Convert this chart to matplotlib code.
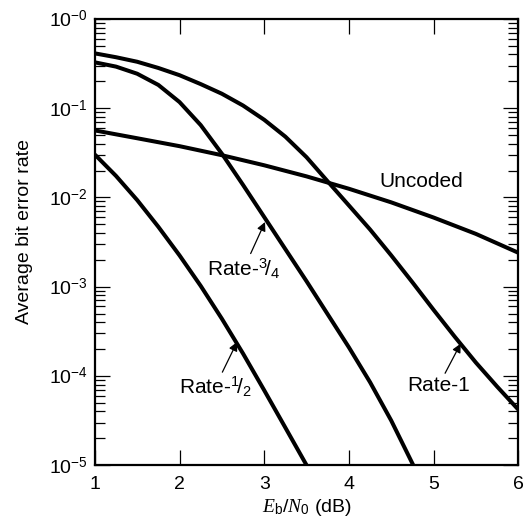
import numpy as np
import matplotlib
matplotlib.use('Agg')
import matplotlib.pyplot as plt
from matplotlib.ticker import FixedLocator, FixedFormatter, LogLocator, NullFormatter

plt.rcParams['font.family'] = ['Liberation Sans', 'DejaVu Sans']
plt.rcParams['mathtext.fontset'] = 'custom'
plt.rcParams['mathtext.rm'] = 'Liberation Sans'
plt.rcParams['mathtext.it'] = 'Liberation Serif:italic'
plt.rcParams['mathtext.bf'] = 'Liberation Sans:bold'

# Eb/N0 (dB) 와 BER 값
uncoded_x = [1.0, 1.5, 2.0, 2.5, 3.0, 3.5, 4.0, 4.5, 5.0, 5.5, 6.0]
uncoded_y = [0.0563, 0.046, 0.0375, 0.0297, 0.0229, 0.0172, 0.0125, 0.0088, 0.00595, 0.0039, 0.0024]

rate1_x = [1.0, 1.25, 1.5, 1.75, 2.0, 2.25, 2.5, 2.75, 3.0, 3.25, 3.5,
           3.75, 4.0, 4.25, 4.5, 4.75, 5.0, 5.25, 5.5, 5.75, 6.0]
rate1_y = [0.411, 0.372, 0.331, 0.282, 0.234, 0.186, 0.145, 0.107, 0.0741, 0.0479, 0.0282,
           0.0151, 0.00813, 0.00437, 0.00224, 0.00112, 5.5e-4, 2.75e-4, 1.41e-4, 7.6e-5, 4.2e-5]

rate34_x = [1.0, 1.25, 1.5, 1.75, 2.0, 2.25, 2.5, 2.75, 3.0, 3.25, 3.5,
            3.75, 4.0, 4.25, 4.5, 4.76]
rate34_y = [0.326, 0.292, 0.243, 0.182, 0.117, 0.0646, 0.0309, 0.0138, 0.00603, 0.00263, 0.00115,
            4.9e-4, 2.09e-4, 8.5e-5, 3.16e-5, 1e-5]

rate12_x = [1.0, 1.25, 1.5, 1.75, 2.0, 2.25, 2.5, 2.75, 3.0, 3.25, 3.5]
rate12_y = [0.0302, 0.0174, 0.00933, 0.00468, 0.00224, 0.00102, 4.37e-4, 1.78e-4, 6.9e-5, 2.63e-5, 1e-5]

ytick_vals = [1e-5, 1e-4, 1e-3, 1e-2, 1e-1, 1e0]
ytick_labels = [r'$10^{-5}$', r'$10^{-4}$', r'$10^{-3}$', r'$10^{-2}$', r'$10^{-1}$', r'$10^{-0}$']

fig = plt.figure(figsize=(5.24, 5.25), dpi=100)
ax = fig.add_axes([0.181, 0.114, 0.808, 0.85])

for xs, ys in [(uncoded_x, uncoded_y), (rate1_x, rate1_y), (rate34_x, rate34_y), (rate12_x, rate12_y)]:
    ax.plot(xs, ys, color='black', linewidth=2.9, solid_joinstyle='round', solid_capstyle='butt')

ax.set_yscale('log')
ax.set_xlim(1, 6)
ax.set_ylim(1e-5, 1)

ax.xaxis.set_major_locator(FixedLocator([1, 2, 3, 4, 5, 6]))
ax.yaxis.set_major_locator(FixedLocator(ytick_vals))
ax.yaxis.set_major_formatter(FixedFormatter(ytick_labels))
ax.yaxis.set_minor_locator(LogLocator(base=10, subs=np.arange(2, 10)))
ax.yaxis.set_minor_formatter(NullFormatter())

ax.tick_params(axis='both', which='major', direction='in', length=10.8, width=0.9,
               top=True, right=True, labelsize=14, color='black')
ax.tick_params(axis='y', which='minor', direction='in', length=7, width=0.9, right=True)
ax.tick_params(axis='x', which='major', pad=8)
ax.tick_params(axis='y', which='major', pad=5)
for s in ax.spines.values():
    s.set_linewidth(1.6)

ax.set_xlabel(r'$E_{\rm b}/N_0$ (dB)', fontsize=14, labelpad=3)
ax.set_ylabel('Average bit error rate', fontsize=14)
ax.yaxis.set_label_coords(-0.145, 0.524)

# 곡선 라벨
ax.text(4.86, 0.0151, 'Uncoded', fontsize=15, ha='center', va='center')

arrow = dict(arrowstyle='-|>', color='black', lw=0.9, mutation_scale=13, shrinkA=0, shrinkB=0)
ax.annotate(r'Rate-$^{3}\!/_{4}$', xy=(3.01, 5.3e-3), xytext=(2.76, 1.6e-3),
            fontsize=15, ha='center', va='center', arrowprops=arrow)
ax.annotate(r'Rate-$^{1}\!/_{2}$', xy=(2.68, 2.4e-4), xytext=(2.42, 7.5e-5),
            fontsize=15, ha='center', va='center', arrowprops=arrow)
ax.annotate('Rate-1', xy=(5.32, 2.3e-4), xytext=(5.06, 7.8e-5),
            fontsize=15, ha='center', va='center', arrowprops=arrow)

fig.savefig('out.png', dpi=100)
